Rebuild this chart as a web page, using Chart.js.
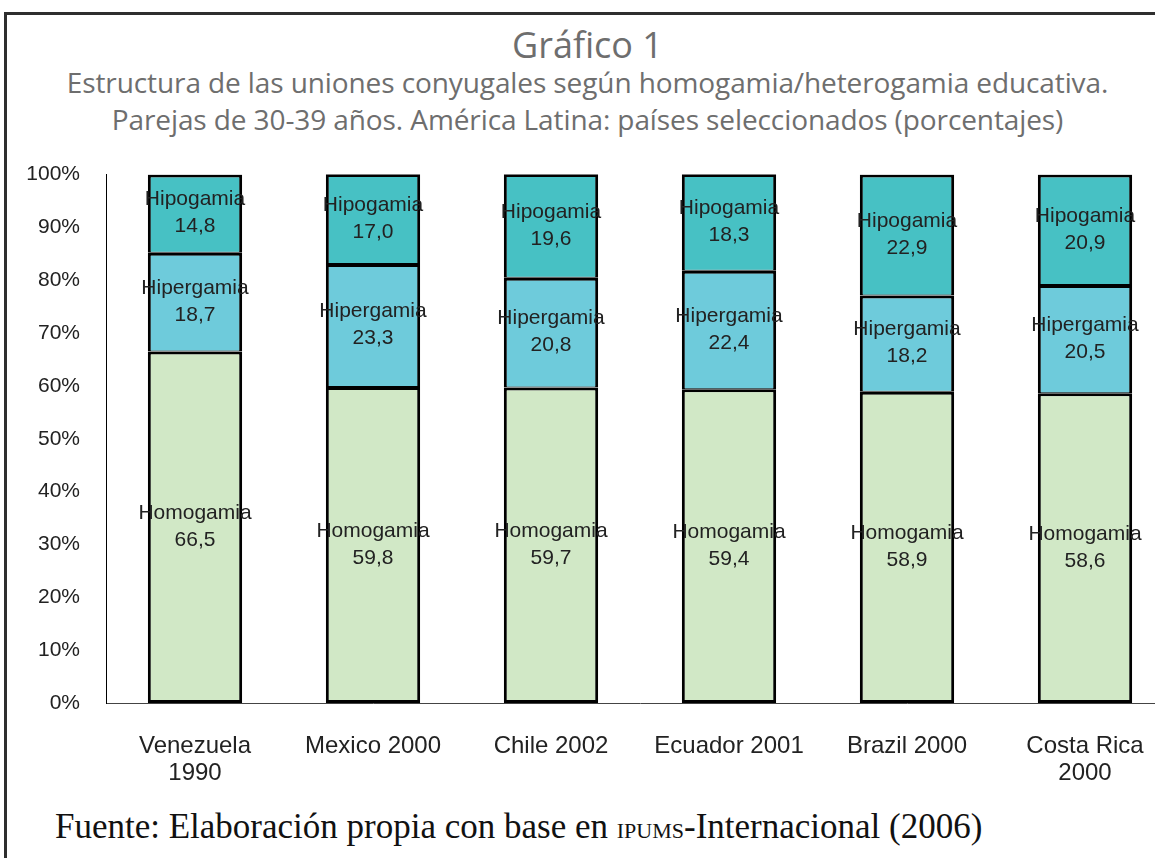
<!DOCTYPE html>
<html>
<head>
<meta charset="utf-8">
<script src="https://cdn.jsdelivr.net/npm/chart.js@4"></script>
<style>
  html, body { margin: 0; padding: 0; background: #fff; width: 1155px; height: 858px; overflow: hidden; }
  #frame { position: absolute; left: 4px; top: 12px; width: 1300px; height: 1000px; border: 3px solid #2e2e2e; }
  .t { position: absolute; left: 0; width: 1175px; text-align: center; color: #6e6e6e; font-family: "Open Sans", sans-serif; white-space: nowrap; }
  #title { top: 20px; font-size: 36px; }
  #sub1 { top: 63px; font-size: 28px; letter-spacing: -0.1px; }
  #sub2 { top: 100px; font-size: 28px; letter-spacing: -0.1px; }
  #wrap { position: absolute; left: 0; top: 136px; width: 1200px; height: 664px; }
  #foot { position: absolute; left: 55px; top: 807px; font-family: "Liberation Serif", serif; font-size: 35px; color: #111; white-space: nowrap; }
  #foot span { font-size: 22px; }
</style>
</head>
<body>
<div id="frame"></div>
<div class="t" id="title">Gráfico 1</div>
<div class="t" id="sub1">Estructura de las uniones conyugales según homogamia/heterogamia educativa.</div>
<div class="t" id="sub2">Parejas de 30-39 años. América Latina: países seleccionados (porcentajes)</div>
<div id="wrap"><canvas id="myChart"></canvas></div>
<div id="foot">Fuente: Elaboración propia con base en <span>IPUMS</span>-Internacional (2006)</div>

<script>
// Data
var countries = [['Venezuela', '1990'], 'Mexico 2000', 'Chile 2002', 'Ecuador 2001', 'Brazil 2000', ['Costa Rica', '2000']];
var homogamia = [66.5, 59.8, 59.7, 59.4, 58.9, 58.6];
var hipergamia = [18.7, 23.3, 20.8, 22.4, 18.2, 20.5];
var hipogamia = [14.8, 17.0, 19.6, 18.3, 22.9, 20.9];
var yTicks = [0, 10, 20, 30, 40, 50, 60, 70, 80, 90, 100];

// draws "Name\nvalue" in the middle of each segment
var segmentLabels = {
  id: 'segmentLabels',
  afterDatasetsDraw: function(chart) {
    var c = chart.ctx;
    c.save();
    c.font = '21px "Liberation Sans", Arial, sans-serif';
    c.fillStyle = '#222';
    c.textAlign = 'center';
    c.textBaseline = 'middle';
    chart.data.datasets.forEach(function(ds, di) {
      var meta = chart.getDatasetMeta(di);
      meta.data.forEach(function(bar, i) {
        var yc = (bar.y + bar.base) / 2;
        c.fillText(ds.label, bar.x, yc - 14);
        c.fillText(ds.data[i].toFixed(1).replace('.', ','), bar.x, yc + 13);
      });
    });
    c.restore();
  }
};

var data = {
  labels: countries,
  datasets: [{
    label: 'Homogamia',
    data: homogamia,
    backgroundColor: '#d1e8c6',
    borderWidth: 3,
  }, {
    label: 'Hipergamia',
    data: hipergamia,
    backgroundColor: '#6ecbdb',
    borderWidth: { top: 3, left: 3, right: 3, bottom: 1 },
  }, {
    label: 'Hipogamia',
    data: hipogamia,
    backgroundColor: '#47c1c4',
    borderWidth: { top: 3, left: 3, right: 3, bottom: 1 },
  }]
};
data.datasets.forEach(function(d) {
  d.borderColor = '#000';
  d.borderSkipped = false;
  d.categoryPercentage = 1;
  d.barPercentage = 0.53;
});

var ctx = document.getElementById('myChart').getContext('2d');
var myChart = new Chart(ctx, {
  type: 'bar',
  data: data,
  plugins: [segmentLabels],
  options: {
    responsive: true,
    maintainAspectRatio: false,
    animation: false,
    layout: { padding: { top: 10, right: 26, bottom: 0, left: 0 } },
    scales: {
      x: {
        stacked: true,
        grid: { display: false, drawTicks: false },
        border: { display: true, color: '#444', width: 1 },
        ticks: {
          color: '#222',
          padding: 30,
          maxRotation: 0,
          autoSkip: false,
          font: { family: '"Liberation Sans", Arial, sans-serif', size: 24, lineHeight: 1.13 },
        },
        afterFit: function(scale) { scale.height = 97; },
      },
      y: {
        stacked: true,
        min: 0,
        max: 100,
        grid: { display: false, drawTicks: false },
        border: { display: true, color: '#000', width: 1 },
        afterBuildTicks: function(scale) {
          scale.ticks = yTicks.map(function(v) { return { value: v }; });
        },
        ticks: {
          color: '#222',
          padding: 26,
          font: { family: '"Liberation Sans", Arial, sans-serif', size: 21 },
          callback: function(v) { return v + '%'; },
        },
        afterFit: function(scale) { scale.width = 106; },
      },
    },
    plugins: {
      legend: { display: false },
      tooltip: { enabled: false },
    },
  }
});
</script>
</body>
</html>
